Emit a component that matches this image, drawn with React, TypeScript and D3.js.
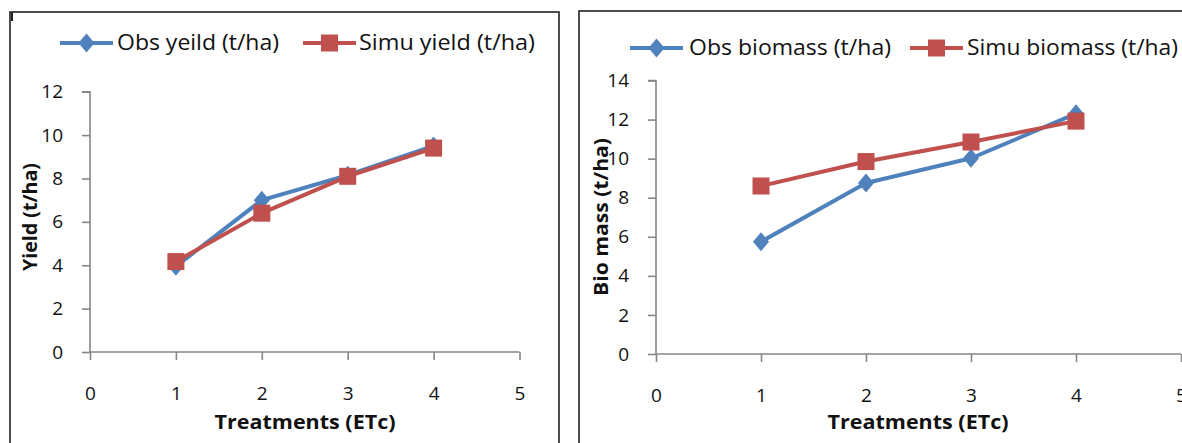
import React, { useEffect, useRef } from "react";
import * as d3 from "d3";

// Treatment levels (ETc)
const treatments = [1, 2, 3, 4];

// Yield panel (t/ha)
const obsYield = [3.95, 7.0, 8.15, 9.5];
const simuYield = [4.17, 6.4, 8.1, 9.4];

// Biomass panel (t/ha)
const obsBiomass = [5.75, 8.75, 10.02, 12.3];
const simuBiomass = [8.6, 9.85, 10.85, 11.92];

const xTicks = [0, 1, 2, 3, 4, 5];
const yieldTicks = [0, 2, 4, 6, 8, 10, 12];
const biomassTicks = [0, 2, 4, 6, 8, 10, 12, 14];

const BLUE = "#4F81BD";
const RED = "#C0504D";
const AXIS = "#868686";
const FONT = "'Open Sans', 'Noto Sans', sans-serif";

interface Panel {
  frame: [number, number, number, number];
  x0: number; x1: number; y0: number; y1: number;
  yMax: number; yTicks: number[];
  obs: number[]; simu: number[];
  obsLabel: string; simuLabel: string; yTitle: string;
  legendY: number;
  legendObsX: number; legendSimuX: number;
  obsTextX: number; obsTextLen: number;
  simuTextX: number; simuTextLen: number;
  yTitleX: number; yTitleY: number; yTitleLen: number;
  xTitleX: number;
}

const panels: Panel[] = [
  {
    frame: [10, 12, 559, 470],
    x0: 90, x1: 519.5, y0: 352, y1: 91.7,
    yMax: 12, yTicks: yieldTicks,
    obs: obsYield, simu: simuYield,
    obsLabel: "Obs yeild (t/ha)", simuLabel: "Simu yield (t/ha)", yTitle: "Yield (t/ha)",
    legendY: 43,
    legendObsX: 60, legendSimuX: 303,
    obsTextX: 117, obsTextLen: 162,
    simuTextX: 359, simuTextLen: 176,
    yTitleX: 37, yTitleY: 217, yTitleLen: 108,
    xTitleX: 305,
  },
  {
    frame: [579, 11, 1200, 470],
    x0: 656, x1: 1181, y0: 354, y1: 80.5,
    yMax: 14, yTicks: biomassTicks,
    obs: obsBiomass, simu: simuBiomass,
    obsLabel: "Obs biomass  (t/ha)", simuLabel: "Simu biomass  (t/ha)", yTitle: "Bio mass  (t/ha)",
    legendY: 48,
    legendObsX: 630, legendSimuX: 910,
    obsTextX: 689, obsTextLen: 202,
    simuTextX: 967, simuTextLen: 211,
    yTitleX: 608, yTitleY: 217, yTitleLen: 158,
    xTitleX: 918,
  },
];

// Diamond marker, slightly taller than wide
const diamondPath = (w: number, h: number) => {
  const p = d3.path();
  p.moveTo(0, -h / 2);
  p.lineTo(w / 2, 0);
  p.lineTo(0, h / 2);
  p.lineTo(-w / 2, 0);
  p.closePath();
  return p.toString();
};

export default function App() {
  const ref = useRef<SVGSVGElement>(null);

  useEffect(() => {
    const svg = d3.select(ref.current!);
    svg.selectAll("*").remove();

    panels.forEach((p) => {
      const g = svg.append("g");
      const [fx0, fy0, fx1, fy1] = p.frame;
      g.append("rect")
        .attr("x", fx0).attr("y", fy0)
        .attr("width", fx1 - fx0).attr("height", fy1 - fy0)
        .attr("fill", "#fff").attr("stroke", "#222").attr("stroke-width", 1.6);

      const x = d3.scaleLinear().domain([0, 5]).range([p.x0, p.x1]);
      const y = d3.scaleLinear().domain([0, p.yMax]).range([p.y0, p.y1]);

      // axes
      const xAxis = g.append("g").attr("transform", `translate(0,${p.y0})`)
        .call(d3.axisBottom(x).tickValues(xTicks).tickSize(8).tickPadding(27).tickFormat(d3.format("d")));
      const yAxis = g.append("g").attr("transform", `translate(${p.x0},0)`)
        .call(d3.axisLeft(y).tickValues(p.yTicks).tickSize(8).tickPadding(19).tickFormat(d3.format("d")));
      [xAxis, yAxis].forEach((a) => {
        a.select(".domain").attr("stroke", AXIS).attr("stroke-width", 1.6);
        a.selectAll(".tick line").attr("stroke", AXIS).attr("stroke-width", 1.6);
        a.selectAll(".tick text").attr("font-family", FONT).attr("font-size", 19).attr("fill", "#111");
      });
      yAxis.select(".domain").attr("d", `M-8,${p.y1}H0V${p.y0}`);
      xAxis.select(".domain").attr("d", `M0,0H${p.x1 - p.x0}`).attr("transform", `translate(${p.x0},0)`);

      // axis titles
      g.append("text")
        .attr("x", p.xTitleX - 90.5).attr("y", 429)
        .attr("textLength", 181).attr("lengthAdjust", "spacingAndGlyphs")
        .attr("font-family", FONT).attr("font-size", 20).attr("font-weight", "bold")
        .attr("fill", "#111")
        .text("Treatments (ETc)");
      g.append("text")
        .attr("transform", `translate(${p.yTitleX},${p.yTitleY + p.yTitleLen / 2}) rotate(-90)`)
        .attr("textLength", p.yTitleLen).attr("lengthAdjust", "spacingAndGlyphs")
        .attr("font-family", FONT).attr("font-size", 19).attr("font-weight", "bold")
        .attr("fill", "#111")
        .text(p.yTitle);

      const line = d3.line<number>()
        .x((_, i) => x(treatments[i]))
        .y((d) => y(d));

      const dPath = diamondPath(16, 19);
      const sq = 17;

      // observed series: blue line with diamonds
      g.append("path").attr("d", line(p.obs)!)
        .attr("fill", "none").attr("stroke", BLUE).attr("stroke-width", 4).attr("stroke-linejoin", "round");
      g.selectAll(".obs").data(p.obs).join("path")
        .attr("transform", (d, i) => `translate(${x(treatments[i])},${y(d)})`)
        .attr("d", dPath)
        .attr("fill", BLUE);

      // simulated series: red line with squares
      g.append("path").attr("d", line(p.simu)!)
        .attr("fill", "none").attr("stroke", RED).attr("stroke-width", 4).attr("stroke-linejoin", "round");
      g.selectAll(".simu").data(p.simu).join("rect")
        .attr("x", (_, i) => x(treatments[i]) - sq / 2)
        .attr("y", (d) => y(d) - sq / 2)
        .attr("width", sq).attr("height", sq)
        .attr("fill", RED);

      // legend
      const lg = g.append("g");
      const entries = [
        { x: p.legendObsX, color: BLUE, label: p.obsLabel, kind: "diamond", tx: p.obsTextX, tl: p.obsTextLen },
        { x: p.legendSimuX, color: RED, label: p.simuLabel, kind: "square", tx: p.simuTextX, tl: p.simuTextLen },
      ];
      entries.forEach((e) => {
        lg.append("line")
          .attr("x1", e.x).attr("x2", e.x + 53)
          .attr("y1", p.legendY).attr("y2", p.legendY)
          .attr("stroke", e.color).attr("stroke-width", 4);
        if (e.kind === "diamond") {
          lg.append("path")
            .attr("transform", `translate(${e.x + 26.5},${p.legendY})`)
            .attr("d", dPath).attr("fill", e.color);
        } else {
          lg.append("rect")
            .attr("x", e.x + 26.5 - sq / 2).attr("y", p.legendY - sq / 2)
            .attr("width", sq).attr("height", sq).attr("fill", e.color);
        }
        lg.append("text")
          .attr("x", e.tx).attr("y", p.legendY + 7)
          .attr("textLength", e.tl).attr("lengthAdjust", "spacingAndGlyphs")
          .attr("font-family", FONT).attr("font-size", 21)
          .attr("fill", "#111")
          .text(e.label);
      });
    });

    // short dark stroke at the inner top-left corner of the first frame
    svg.append("line")
      .attr("x1", 12).attr("x2", 12).attr("y1", 12).attr("y2", 21)
      .attr("stroke", "#222").attr("stroke-width", 2);
  }, []);

  return (
    <svg
      ref={ref}
      width={1182}
      height={443}
      style={{ position: "absolute", left: 0, top: 0, background: "#fff" }}
    />
  );
}
